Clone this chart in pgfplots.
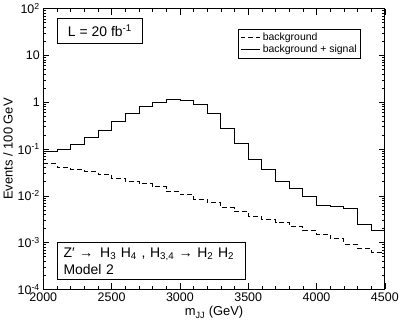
\documentclass[border=0pt]{standalone}
\usepackage{fontspec}
\setmainfont{Liberation Sans}
\usepackage{pgfplots}
\pgfplotsset{compat=1.18}

% per-bin contents, 100 GeV bins, left edges
\pgfplotstableread{
x     bkg      tot
2000  0.049    0.089
2100  0.040    0.100
2200  0.037    0.126
2300  0.033    0.18
2400  0.029    0.25
2500  0.024    0.39
2600  0.0206   0.57
2700  0.018    0.81
2800  0.0155   1.00
2900  0.0122   1.15
3000  0.0105   1.10
3100  0.0085   0.88
3200  0.0071   0.565
3300  0.0056   0.27
3400  0.0046   0.13
3500  0.0036   0.061
3600  0.0031   0.0375
3700  0.0027   0.0202
3800  0.0022   0.0146
3900  0.0018   0.0095
4000  0.0015   0.0063
4100  0.0012   0.0058
4200  0.00093  0.0054
4300  0.00077  0.0025
4400  0.00062  0.0018
4500  0.00062  0.0018
}\hist

\begin{document}
\begin{tikzpicture}
\begin{axis}[
  scale only axis,
  width=343pt, height=282pt,
  xmin=2000, xmax=4500,
  ymode=log, ymin=1e-4, ymax=1e2,
  xtick={2000,2500,...,4500},
  minor x tick num=4,
  ytick={1e-4,1e-3,1e-2,1e-1,1,10,100},
  yticklabels={10\textsuperscript{-4},10\textsuperscript{-3},10\textsuperscript{-2},10\textsuperscript{-1},1,10,10\textsuperscript{2}},
  xticklabel style={/pgf/number format/1000 sep={}, /pgf/number format/assume math mode=true},
  x tick label style={font=\fontsize{12.5}{14}\selectfont},
  y tick label style={font=\fontsize{12.5}{14}\selectfont},
  tick align=inside,
  major tick length=6pt, minor tick length=3pt,
  axis line style={line width=0.9pt},
  every tick/.style={black, line width=0.6pt},
  xlabel={m\textsubscript{JJ} (GeV)},
  ylabel={Events / 100 GeV},
  label style={font=\fontsize{13}{15}\selectfont},
  ylabel style={yshift=-2pt},
  xlabel style={yshift=2pt},
  legend style={at={(0.93,0.929)}, anchor=north east, draw=black, line width=0.5pt,
    font=\fontsize{10.5}{12}\selectfont, row sep=-1pt, inner sep=2pt},
  legend cell align=left,
  legend image post style={line width=0.8pt},
  legend image code/.code={\draw[#1] (0pt,0pt) -- (20pt,0pt);},
]
\addplot[const plot mark left, dashed, dash pattern=on 5pt off 3pt, line width=0.8pt, black] table[x=x, y=bkg] {\hist};
\addlegendentry{background}
\addplot[const plot mark left, line width=0.8pt, black] table[x=x, y=tot] {\hist};
\addlegendentry{background + signal}

\node[draw, line width=0.6pt, anchor=north west, inner xsep=5pt, inner ysep=4pt,
  minimum width=85pt, minimum height=26pt, align=left, font=\fontsize{14}{16}\selectfont]
  at (rel axis cs:0.041,0.968) {L = 20 fb\textsuperscript{-1}};

\node[draw, line width=0.6pt, anchor=south west, inner xsep=6pt, inner ysep=5pt,
  text width=177pt, align=left, font=\fontsize{14}{17}\selectfont]
  at (rel axis cs:0.041,0.035)
  {Z′ → \,H\textsubscript{3} H\textsubscript{4} , H\textsubscript{3,4} → H\textsubscript{2} H\textsubscript{2}\\Model 2};
\end{axis}
\end{tikzpicture}
\end{document}
